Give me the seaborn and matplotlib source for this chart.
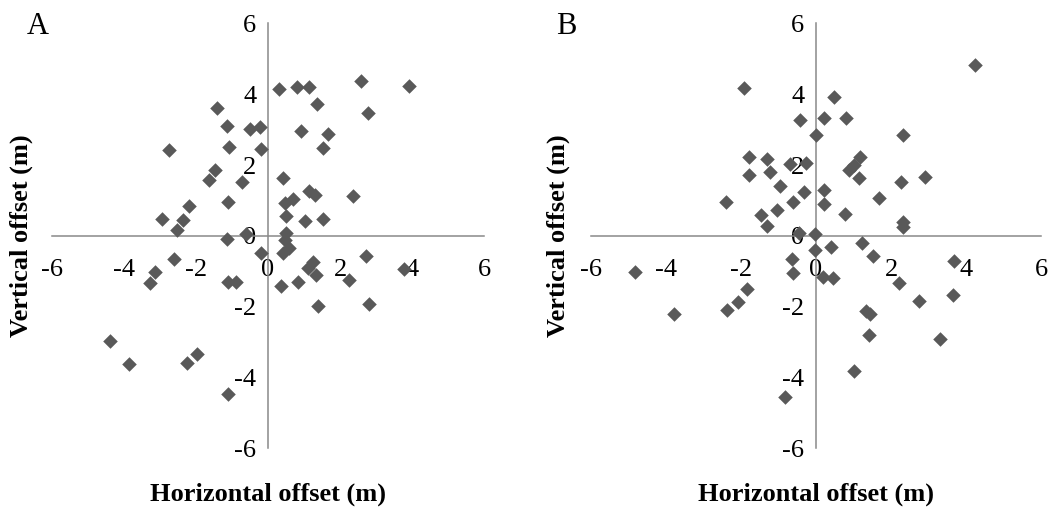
import matplotlib
matplotlib.use("Agg")
import matplotlib.pyplot as plt
import seaborn as sns
import pandas as pd

# Panel A: landing offsets (m)
a_x = [-1.42, -1.15, -0.51, -0.23, -2.74, -1.08, -0.18, -1.48, -1.63, -0.72,
       -1.11, -2.19, -2.93, -2.37, -2.51, -1.15, -0.60, -0.18, -2.61, -3.13,
       -3.28, -1.11, -0.90, -4.37, -3.85, -2.24, -1.98, -1.11,
       0.30, 0.81, 1.13, 2.57, 3.90, 1.37, 2.78, 0.92, 1.67, 1.54,
       0.42, 1.14, 1.31, 2.37, 0.69, 0.47, 0.51, 1.02, 1.52, 0.51,
       0.48, 0.57, 0.42, 2.71, 1.25, 1.12, 1.34, 0.83, 0.35, 2.26,
       3.76, 1.40, 2.79]
a_y = [3.61, 3.11, 3.02, 3.06, 2.43, 2.50, 2.45, 1.86, 1.58, 1.53,
       0.97, 0.85, 0.48, 0.45, 0.17, -0.09, 0.05, -0.49, -0.65, -1.01,
       -1.32, -1.29, -1.29, -2.96, -3.63, -3.60, -3.33, -4.47,
       4.14, 4.20, 4.20, 4.38, 4.22, 3.72, 3.46, 2.97, 2.88, 2.47,
       1.63, 1.27, 1.14, 1.13, 1.04, 0.92, 0.56, 0.42, 0.48, 0.08,
       -0.11, -0.35, -0.49, -0.56, -0.73, -0.91, -1.10, -1.29, -1.41, -1.24,
       -0.94, -1.97, -1.92]

# Panel B
b_x = [-1.91, -0.44, 0.20, 0.00, -1.80, -1.30, -0.69, -0.27, -1.78, -1.23,
       -0.96, -0.31, -0.61, -2.41, -1.05, -1.47, -1.30, -0.45, -0.04,
       4.24, 0.48, 0.80, 2.31, 1.17, 1.00, 0.87, 1.15, 2.91, 2.26, 0.22,
       1.69, 0.22, 0.77, 2.31, 2.31, 1.22, 0.39, -0.03, 1.53, 3.68,
       0.18, 0.46, 2.20, 2.75, 3.65, 1.32, 1.43, 1.40, 3.31, 1.00,
       -4.83, -3.78, -2.37, -2.07, -1.85, -0.63, -0.61, -0.83]
b_y = [4.17, 3.28, 3.32, 2.85, 2.24, 2.17, 2.03, 2.07, 1.72, 1.80,
       1.41, 1.25, 0.97, 0.95, 0.73, 0.59, 0.29, 0.07, 0.06,
       4.81, 3.92, 3.32, 2.85, 2.22, 2.00, 1.85, 1.62, 1.66, 1.51, 1.30,
       1.06, 0.90, 0.61, 0.40, 0.26, -0.21, -0.32, -0.40, -0.56, -0.70,
       -1.15, -1.20, -1.32, -1.84, -1.67, -2.12, -2.21, -2.80, -2.91, -3.81,
       -1.01, -2.21, -2.09, -1.86, -1.51, -0.66, -1.04, -4.54]

panel_labels = ["A", "B"]
ticks = [-6, -4, -2, 0, 2, 4, 6]

sns.set_style("white")
plt.rcParams["font.family"] = ["Liberation Serif", "DejaVu Serif"]
plt.rcParams["axes.unicode_minus"] = False
plt.rcParams["text.color"] = "black"
plt.rcParams["axes.labelcolor"] = "black"
plt.rcParams["xtick.labelcolor"] = "black"
plt.rcParams["ytick.labelcolor"] = "black"

fig = plt.figure(figsize=(10.5, 5.09), dpi=100)
axes_rects = [[0.0492, 0.1190, 0.4120, 0.8352],
              [0.5629, 0.1190, 0.4286, 0.8352]]
letter_pos = [(37.5 / 1050, 1 - 26 / 509), (566 / 1050, 1 - 26 / 509)]
ylab_x = [-0.071, -0.073]

axis_grey = "#898989"
for i, (xs, ys) in enumerate([(a_x, a_y), (b_x, b_y)]):
    ax = fig.add_axes(axes_rects[i])
    df = pd.DataFrame({"x": xs, "y": ys})
    sns.scatterplot(data=df, x="x", y="y", marker="D", s=55, color="#595959",
                    linewidth=0, ax=ax, zorder=3)
    ax.set_xlim(-6, 6)
    ax.set_ylim(-6, 6)
    ax.set_xticks(ticks)
    ax.set_yticks(ticks)
    for side in ["top", "right"]:
        ax.spines[side].set_visible(False)
    for side in ["left", "bottom"]:
        ax.spines[side].set_position(("data", 0))
        ax.spines[side].set_color(axis_grey)
        ax.spines[side].set_linewidth(1.1)
    ax.tick_params(axis="x", direction="out", length=6, width=1.1,
                   color=axis_grey, labelcolor="black", labelsize=19, pad=11)
    ax.tick_params(axis="y", direction="out", length=5.5, width=1.1,
                   color=axis_grey, labelcolor="black", labelsize=19, pad=3)
    ax.set_xlabel("Horizontal offset (m)", fontsize=19, fontweight="bold",
                  va="center", color="black")
    ax.set_ylabel("Vertical offset (m)", fontsize=19, fontweight="bold",
                  va="center", color="black")
    ax.xaxis.set_label_coords(0.5, -0.107)
    ax.yaxis.set_label_coords(ylab_x[i], 0.5)
    ax.set_facecolor("none")
    fig.text(letter_pos[i][0], letter_pos[i][1], panel_labels[i],
             fontsize=22, ha="center", va="center", color="black")

fig.savefig("out.png", dpi=100)
